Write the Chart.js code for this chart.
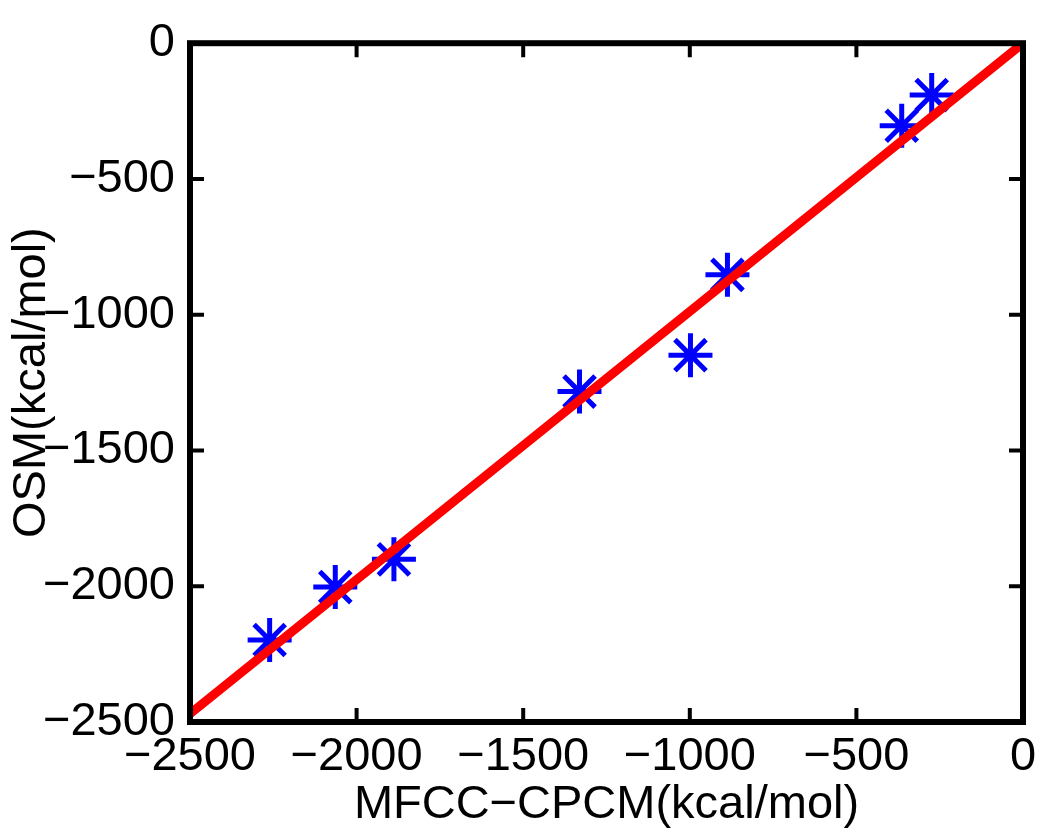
<!DOCTYPE html>
<html>
<head>
<meta charset="utf-8">
<script src="https://cdn.jsdelivr.net/npm/chart.js@4.4.1/dist/chart.umd.min.js"></script>
<style>
  body { margin: 0; background: #fff; }
  canvas { display: block; }
</style>
</head>
<body>
<canvas id="myChart" width="1050" height="839"></canvas>
<script>
'use strict';

// MFCC-CPCM vs OSM energies (kcal/mol)
let mfccValues = [-2261, -2064, -1888, -1331, -998, -887, -364, -274];
let osmValues = [-2198, -2003, -1901, -1283, -1149, -853, -304, -191];

// fitted line
let fitX = [-2500, 0];
let fitY = [-2470, 0];

let tickValues = [-2500, -2000, -1500, -1000, -500, 0];

let xTitle = 'MFCC\u2212CPCM(kcal/mol)';
let yTitle = 'OSM(kcal/mol)';

let fontFamily = "'Liberation Sans', Arial, Helvetica, sans-serif";
let bigFont = { family: fontFamily, size: 47, lineHeight: 1.2 };

function formatTick(v) {
    if (v === 0) return '0';
    return '\u2212' + Math.abs(v);
}

let starPoints = [];
for (let i = 0; i < mfccValues.length; i++) {
    starPoints.push({ x: mfccValues[i], y: osmValues[i] });
}
let fitPoints = [];
for (let i = 0; i < fitX.length; i++) {
    fitPoints.push({ x: fitX[i], y: fitY[i] });
}

// matlab style box with inward ticks on every side
let boxPlugin = {
    id: 'matlabBox',
    afterDatasetsDraw(chart) {
        let ctx = chart.ctx;
        let a = chart.chartArea;
        let tickLen = 14;
        ctx.save();
        ctx.strokeStyle = '#000';
        ctx.lineWidth = 4;
        ctx.beginPath();
        tickValues.forEach(function (v) {
            let x = chart.scales.x.getPixelForValue(v);
            let y = chart.scales.y.getPixelForValue(v);
            ctx.moveTo(x, a.bottom);
            ctx.lineTo(x, a.bottom - tickLen);
            ctx.moveTo(x, a.top);
            ctx.lineTo(x, a.top + tickLen);
            ctx.moveTo(a.left, y);
            ctx.lineTo(a.left + tickLen, y);
            ctx.moveTo(a.right, y);
            ctx.lineTo(a.right - tickLen, y);
        });
        ctx.stroke();
        ctx.lineWidth = 6;
        ctx.strokeRect(a.left, a.top, a.right - a.left, a.bottom - a.top);
        ctx.restore();
    }
};

let ctx = document.getElementById('myChart').getContext('2d');
let myChart = new Chart(ctx, {
    type: 'scatter',
    data: {
        datasets: [
            {
                label: 'fit',
                type: 'line',
                data: fitPoints,
                borderColor: '#ff0000',
                borderWidth: 9,
                borderCapStyle: 'round',
                pointRadius: 0,
                fill: false,
                order: 0
            },
            {
                label: 'data',
                data: starPoints,
                pointStyle: 'star',
                pointRadius: 22,
                borderWidth: 5,
                borderColor: '#0000ff',
                backgroundColor: '#0000ff',
                order: 1
            }
        ]
    },
    options: {
        responsive: false,
        animation: false,
        layout: { padding: { top: 38, right: 22, left: 0, bottom: 0 } },
        plugins: {
            legend: { display: false },
            tooltip: { enabled: false }
        },
        scales: {
            x: {
                type: 'linear',
                min: -2500,
                max: 0,
                afterBuildTicks: function (scale) {
                    scale.ticks = tickValues.map(function (v) { return { value: v }; });
                },
                afterFit: function (scale) { scale.height = 117; },
                grid: { display: false, drawTicks: false },
                border: { display: false },
                ticks: {
                    font: bigFont,
                    color: '#000',
                    padding: 7,
                    maxRotation: 0,
                    autoSkip: false,
                    callback: formatTick
                },
                title: {
                    display: true,
                    text: xTitle,
                    font: bigFont,
                    color: '#000',
                    padding: { top: 0, bottom: 6 }
                }
            },
            y: {
                type: 'linear',
                min: -2500,
                max: 0,
                afterBuildTicks: function (scale) {
                    scale.ticks = tickValues.map(function (v) { return { value: v }; });
                },
                afterFit: function (scale) { scale.width = 190; },
                grid: { display: false, drawTicks: false },
                border: { display: false },
                ticks: {
                    font: bigFont,
                    color: '#000',
                    padding: 15,
                    autoSkip: false,
                    callback: formatTick
                },
                title: {
                    display: true,
                    text: yTitle,
                    font: bigFont,
                    color: '#000',
                    padding: { top: 4, bottom: 0 }
                }
            }
        }
    },
    plugins: [boxPlugin]
});
</script>
</body>
</html>
